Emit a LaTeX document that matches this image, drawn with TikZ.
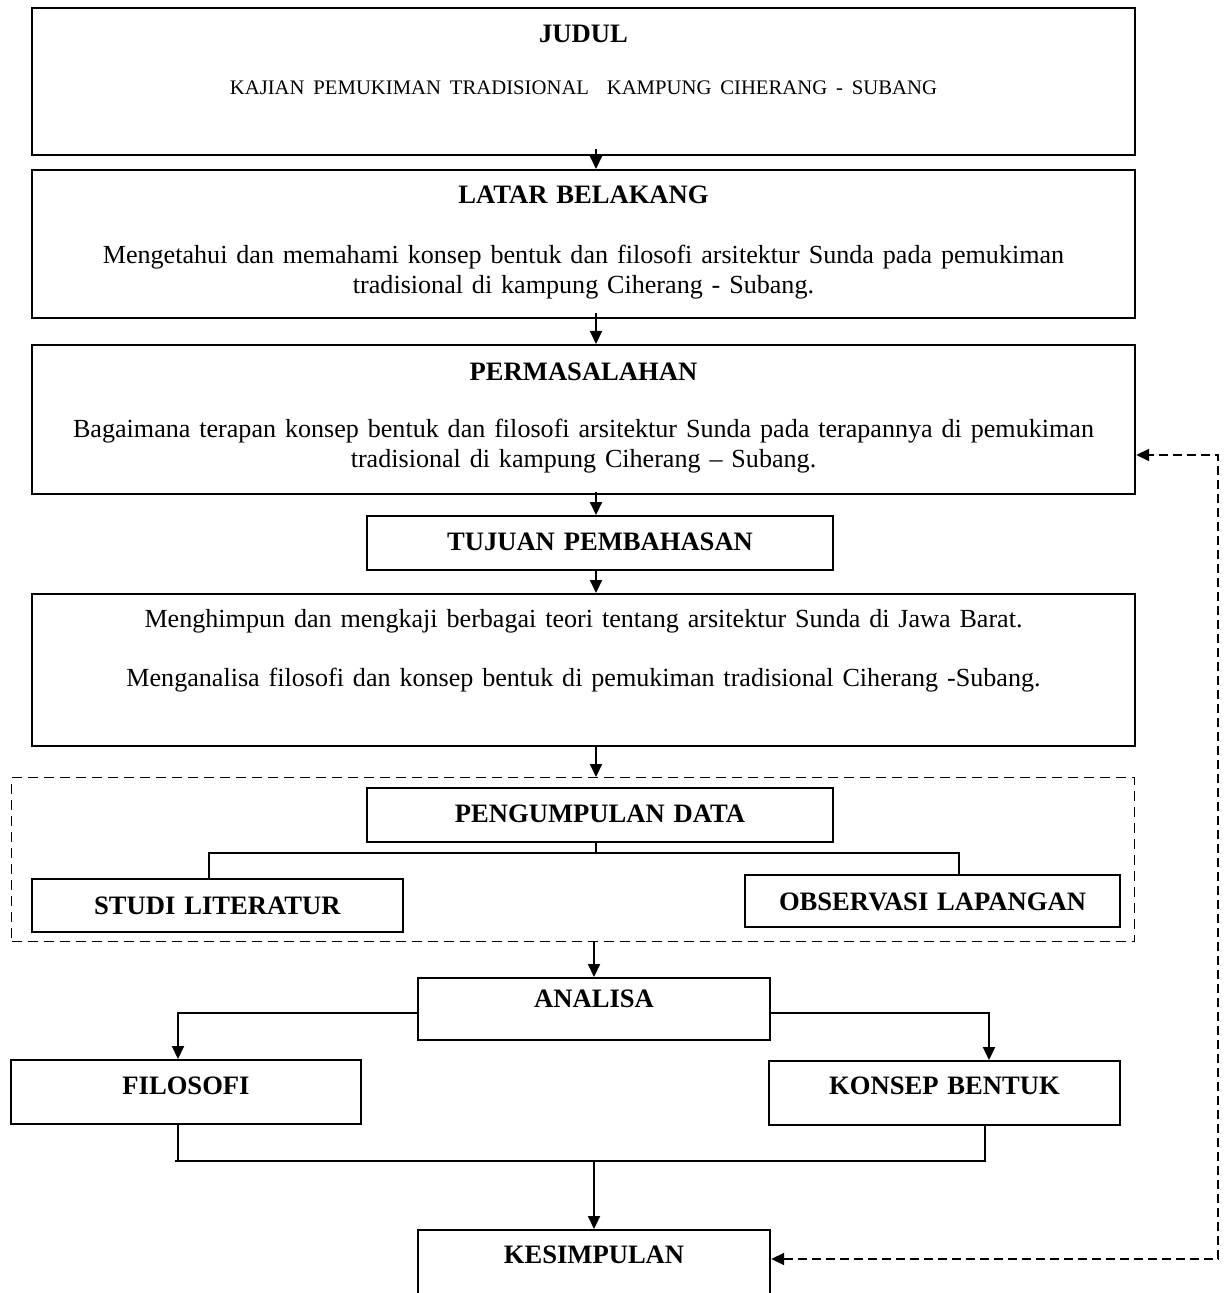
\documentclass[tikz,border=0pt]{standalone}
\usepackage{fontspec}
\setmainfont{Liberation Serif}
\usetikzlibrary{positioning,arrows.meta}
\newcommand\isi{\fontsize{13.05}{15}\selectfont}
\tikzset{
  box/.style={draw, line width=1.2pt, inner sep=0pt, align=center, anchor=north,
    font=\fontsize{13.3}{15}\selectfont},
  wide/.style={box, text width=551.5pt},
  frame/.style={draw, dash pattern=on 5pt off 3pt, line width=0.6pt, inner sep=0pt,
    anchor=north west},
  link/.style={line width=1pt},
  arr/.style={link, -{Triangle[length=6.5pt,width=6pt]}},
  back/.style={link, dash pattern=on 4.5pt off 2.5pt,
    {Triangle[length=6.5pt,width=6pt]}-{Triangle[length=6.5pt,width=6pt]}},
}
\begin{document}
\begin{tikzpicture}[x=0.5pt, y=-0.5pt]
    \path[use as bounding box, fill=white] (0,0) rectangle (1228,1293);
    % main column
    \node[wide, text height=17pt, text depth=56.5pt] (judul) at (583.5,7)
      {\textbf{JUDUL}\\[11pt]{\fontsize{10.35}{12.7}\selectfont KAJIAN PEMUKIMAN TRADISIONAL\ \ KAMPUNG CIHERANG - SUBANG}};
    \node[wide, text height=16.5pt, text depth=57.5pt] (latar) at (583.5,169)
      {\textbf{LATAR BELAKANG}\\[15pt]\isi Mengetahui dan memahami konsep bentuk dan filosofi arsitektur Sunda pada pemukiman\\tradisional di kampung Ciherang - Subang.};
    \node[wide, text height=17.5pt, text depth=57pt] (perm) at (583.5,344)
      {\textbf{PERMASALAHAN}\\[13.5pt]\isi Bagaimana terapan konsep bentuk dan filosofi arsitektur Sunda pada terapannya di pemukiman\\tradisional di kampung Ciherang -- Subang.};
    \node[box, text width=233pt, text height=17pt, text depth=10pt] (tujuan) at (600,515)
      {\textbf{TUJUAN PEMBAHASAN}};
    \node[wide, text height=16.5pt, text depth=59.5pt] (goal) at (583.5,593)
      {\isi Menghimpun dan mengkaji berbagai teori tentang arsitektur Sunda di Jawa Barat.\\[14.5pt]Menganalisa filosofi dan konsep bentuk di pemukiman tradisional Ciherang -Subang.};
    % data collection group
    \node[frame, minimum width=561.5pt, minimum height=82pt] (grup) at (11,777) {};
    \node[box, text width=233pt, text height=17pt, text depth=10pt] (peng) at (600,787)
      {\textbf{PENGUMPULAN DATA}};
    \node[box, text width=185.5pt, text height=17.5pt, text depth=9pt] (studi) at (217.5,878)
      {\textbf{STUDI LITERATUR}};
    \node[box, text width=187.5pt, text height=17.5pt, text depth=8.5pt] (obs) at (932.5,874)
      {\textbf{OBSERVASI LAPANGAN}};
    % analysis
    \node[box, text width=176pt, text height=14.5pt, text depth=16.5pt] (analisa) at (594,977)
      {\textbf{ANALISA}};
    \node[box, text width=175pt, text height=17pt, text depth=15pt] (filo) at (186,1059)
      {\textbf{FILOSOFI}};
    \node[box, text width=175.5pt, text height=16.5pt, text depth=15.5pt] (konsep) at (944.5,1060)
      {\textbf{KONSEP BENTUK}};
    \node[box, text width=176pt, text height=16.5pt, text depth=19pt] (kes) at (594,1229)
      {\textbf{KESIMPULAN}};
    % bends
    \coordinate (spine) at (596,0);
    \coordinate (lbr) at (209,853);
    \coordinate (rbr) at (959,853);
    \coordinate (sl) at (178,1013);
    \coordinate (sr) at (989,1013);
    \coordinate (ml) at (175,1161);
    \coordinate (mr) at (985,1161);
    \coordinate (fbb) at (1218,1259);
    \coordinate (fbt) at (1218,455);
    \draw[arr] (judul.south -| spine) ++(0,-7) -- (latar.north -| spine);
    \draw[arr] (latar.south -| spine) ++(0,-6) -- (perm.north -| spine);
    \draw[arr] (perm.south -| spine) ++(0,-3) -- (tujuan.north -| spine);
    \draw[arr] (tujuan.south -| spine) -- (goal.north -| spine);
    \draw[arr] (goal.south -| spine) -- (grup.north -| spine);
    \draw[link] (peng.south -| spine) -- (lbr -| spine);
    \draw[link] (studi.north -| lbr) -- (lbr) -- (rbr) -- (obs.north -| rbr);
    \draw[arr] (grup.south -| analisa) -- (analisa.north);
    \draw[arr] (analisa.west |- sl) -- (sl) -- (filo.north -| sl);
    \draw[arr] (analisa.east |- sr) -- (sr) -- (konsep.north -| sr);
    \draw[link] (filo.south -| sl) -- (sl |- ml);
    \draw[link] (ml) -- (mr) -- (konsep.south -| mr);
    \draw[arr] (kes.north |- ml) -- (kes.north);
    \draw[back] (kes.east |- fbb) -- (fbb) -- (fbt) -- (perm.east |- fbt);
\end{tikzpicture}
\end{document}
